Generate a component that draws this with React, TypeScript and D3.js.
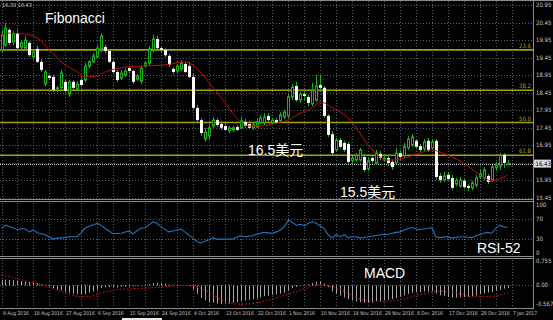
import React from 'react';
import * as d3 from 'd3';

const W = 553;
const H = 320;

const dateLabels = [
  '9 Aug 2016', '18 Aug 2016', '27 Aug 2016', '6 Sep 2016', '15 Sep 2016', '24 Sep 2016',
  '4 Oct 2016', '13 Oct 2016', '22 Oct 2016', '1 Nov 2016', '10 Nov 2016', '19 Nov 2016',
  '29 Nov 2016', '8 Dec 2016', '17 Dec 2016', '28 Dec 2016', '7 Jan 2017',
];

// open, high, low, close
const ohlc: [number, number, number, number][] = [
  [19.67, 20.24, 19.58, 20.10], [19.81, 20.44, 19.75, 20.29], [20.24, 20.29, 19.81, 19.87], [19.90, 20.21, 19.81, 20.12],
  [20.15, 20.24, 19.67, 19.72], [19.75, 19.95, 19.67, 19.87], [19.72, 20.07, 19.64, 19.95], [19.87, 19.92, 19.47, 19.52],
  [19.47, 19.67, 19.38, 19.61], [19.70, 19.78, 19.30, 19.33], [19.33, 19.41, 19.04, 19.10], [18.70, 19.10, 18.64, 19.04],
  [18.93, 18.98, 18.81, 18.87], [18.90, 18.96, 18.47, 18.53], [18.56, 18.64, 18.47, 18.59], [18.59, 19.10, 18.56, 19.01],
  [18.76, 18.81, 18.44, 18.50], [18.41, 18.81, 18.33, 18.76], [18.76, 18.81, 18.53, 18.59], [18.56, 18.78, 18.50, 18.70],
  [18.81, 18.87, 18.61, 18.67], [18.81, 19.30, 18.76, 19.21], [19.21, 19.38, 19.15, 19.33], [19.33, 19.58, 19.30, 19.50],
  [19.47, 19.81, 19.44, 19.72], [19.70, 20.15, 19.61, 20.07], [19.75, 19.81, 19.58, 19.64], [19.64, 19.70, 19.30, 19.33],
  [19.33, 19.38, 18.98, 19.04], [19.04, 19.10, 18.76, 18.81], [18.87, 19.10, 18.81, 19.01], [18.96, 19.15, 18.90, 19.07],
  [19.15, 19.21, 19.01, 19.07], [19.07, 19.10, 18.70, 18.76], [18.84, 18.98, 18.78, 18.93], [18.78, 19.21, 18.70, 19.15],
  [19.21, 19.36, 19.18, 19.30], [19.30, 19.78, 19.24, 19.70], [19.67, 20.10, 19.61, 19.98], [19.98, 20.07, 19.67, 19.72],
  [19.72, 19.78, 19.61, 19.67], [19.67, 19.72, 19.47, 19.52], [19.50, 19.55, 19.18, 19.24], [19.13, 19.18, 18.98, 19.04],
  [19.07, 19.27, 19.01, 19.21], [19.13, 19.38, 19.07, 19.30], [19.27, 19.33, 19.01, 19.04], [19.21, 19.33, 18.87, 18.90],
  [18.90, 18.98, 17.96, 18.02], [18.02, 18.10, 17.62, 17.67], [17.67, 17.73, 17.22, 17.30], [17.13, 17.45, 17.05, 17.33],
  [17.22, 17.53, 17.13, 17.45], [17.50, 17.76, 17.45, 17.67], [17.67, 17.73, 17.47, 17.53], [17.56, 17.65, 17.39, 17.45],
  [17.50, 17.59, 17.36, 17.39], [17.36, 17.50, 17.30, 17.45], [17.39, 17.50, 17.33, 17.45], [17.47, 17.53, 17.36, 17.39],
  [17.45, 17.76, 17.42, 17.65], [17.62, 17.70, 17.45, 17.50], [17.56, 17.65, 17.42, 17.45], [17.45, 17.59, 17.39, 17.53],
  [17.47, 17.70, 17.45, 17.62], [17.59, 17.82, 17.56, 17.73], [17.59, 17.87, 17.53, 17.76], [17.79, 17.87, 17.62, 17.67],
  [17.59, 17.73, 17.53, 17.67], [17.67, 17.73, 17.56, 17.59], [17.65, 17.90, 17.59, 17.82], [17.76, 17.96, 17.70, 17.90],
  [17.79, 18.41, 17.73, 18.33], [18.33, 18.70, 18.24, 18.61], [18.64, 18.76, 18.19, 18.24], [18.24, 18.47, 18.16, 18.41],
  [18.41, 18.47, 18.24, 18.36], [18.33, 18.39, 18.07, 18.16], [18.13, 18.73, 18.07, 18.53], [18.24, 18.96, 18.19, 18.64],
  [18.67, 18.96, 18.47, 18.59], [18.59, 18.64, 17.73, 17.79], [17.79, 17.84, 17.19, 17.25], [17.27, 17.36, 16.68, 16.73],
  [16.82, 17.16, 16.76, 17.10], [17.10, 17.16, 16.85, 16.91], [17.02, 17.08, 16.76, 16.82], [16.99, 17.05, 16.42, 16.48],
  [16.51, 16.65, 16.45, 16.59], [16.53, 16.73, 16.48, 16.68], [16.53, 16.88, 16.48, 16.82], [16.62, 16.71, 16.19, 16.25],
  [16.28, 16.59, 16.22, 16.51], [16.59, 16.65, 16.45, 16.51], [16.45, 16.82, 16.39, 16.73], [16.71, 16.79, 16.53, 16.59],
  [16.53, 16.65, 16.48, 16.59], [16.59, 16.68, 16.36, 16.45], [16.48, 16.53, 16.25, 16.33], [16.45, 16.88, 16.39, 16.73],
  [16.73, 16.82, 16.53, 16.62], [16.65, 17.02, 16.59, 16.91], [16.88, 17.22, 16.82, 17.13], [16.96, 17.27, 16.91, 17.19],
  [17.08, 17.13, 16.85, 16.91], [16.93, 16.99, 16.76, 16.82], [16.85, 17.13, 16.79, 17.05], [17.08, 17.16, 16.76, 16.82],
  [16.88, 17.13, 16.82, 17.05], [17.08, 17.13, 15.96, 16.05], [16.08, 16.16, 15.88, 15.96], [15.96, 16.19, 15.91, 16.08],
  [16.11, 16.19, 15.94, 15.99], [16.02, 16.11, 15.68, 15.74], [15.85, 16.02, 15.79, 15.96], [15.79, 16.05, 15.74, 15.96],
  [15.94, 15.99, 15.71, 15.76], [15.79, 15.85, 15.65, 15.74], [15.74, 15.94, 15.68, 15.88], [15.82, 16.11, 15.76, 16.02],
  [16.05, 16.25, 15.99, 16.14], [16.02, 16.33, 15.96, 16.25], [16.08, 16.14, 15.85, 15.91], [15.96, 16.39, 15.91, 16.33],
  [16.31, 16.48, 16.22, 16.39], [16.36, 16.73, 16.25, 16.68], [16.68, 16.73, 16.31, 16.45], [16.41, 16.53, 16.38, 16.43],
];

// [bar index, value] read from the red moving average
const maPoints: [number, number][] = [
  [0, 20.10], [2, 20.15], [6, 20.12], [9, 20.01], [12, 19.67], [15, 19.33], [19, 19.04], [21, 18.90],
  [24, 18.93], [26, 19.04], [31, 19.18], [35, 19.21], [41, 19.24], [46, 19.33], [48, 19.24], [51, 18.90],
  [53, 18.61], [55, 18.33], [58, 17.87], [60, 17.62], [62, 17.50], [65, 17.50], [69, 17.59], [72, 17.67],
  [75, 17.87], [78, 18.02], [80, 18.19], [81, 18.16], [83, 18.02], [87, 17.73], [89, 17.45], [92, 16.96],
  [95, 16.62], [97, 16.53], [100, 16.56], [105, 16.73], [108, 16.82], [110, 16.76], [113, 16.62], [116, 16.45],
  [120, 16.11], [123, 15.94], [127, 16.11],
];

const rsiPoints: [number, number][] = [
  [0, 51], [1, 58], [2, 55], [3, 52], [4, 48], [5, 51], [6, 50], [7, 44], [8, 48], [9, 42], [11, 38], [13, 29],
  [14, 31], [16, 32], [17, 34], [19, 34], [20, 42], [21, 52], [24, 62], [25, 58], [26, 51], [28, 40], [30, 41],
  [32, 46], [33, 40], [35, 52], [36, 52], [38, 65], [39, 62], [40, 55], [42, 44], [43, 46], [45, 50], [46, 44],
  [48, 31], [49, 24], [50, 21], [52, 27], [53, 32], [54, 29], [56, 29], [58, 29], [60, 36], [61, 34], [63, 36],
  [64, 39], [66, 43], [68, 41], [69, 44], [70, 48], [71, 55], [72, 69], [74, 58], [75, 60], [76, 57], [77, 62],
  [78, 65], [79, 62], [81, 51], [82, 38], [83, 31], [84, 38], [85, 34], [86, 38], [87, 32], [88, 34], [89, 34],
  [90, 31], [92, 34], [93, 35], [95, 38], [97, 39], [99, 43], [100, 44], [102, 51], [103, 53], [104, 50],
  [105, 49], [107, 51], [108, 53], [109, 34], [110, 32], [112, 34], [113, 31], [115, 34], [116, 34], [118, 32],
  [119, 36], [121, 41], [122, 43], [123, 41], [124, 51], [125, 58], [126, 55], [127, 53],
];

const macdHist: number[] = [
  0.17, 0.18, 0.17, 0.16, 0.15, 0.13, 0.12, 0.10, 0.08, 0.06, 0.03, -0.01, -0.04, -0.08, -0.12, -0.15,
  -0.19, -0.22, -0.25, -0.27, -0.28, -0.26, -0.22, -0.18, -0.13, -0.08, -0.06, -0.05, -0.05, -0.06, -0.05, -0.04,
  -0.03, -0.03, -0.02, -0.01, 0.01, 0.04, 0.07, 0.08, 0.07, 0.05, 0.03, 0.01, 0.01, 0.01, 0.00, -0.02,
  -0.12, -0.25, -0.38, -0.45, -0.50, -0.53, -0.55, -0.56, -0.56, -0.55, -0.53, -0.51, -0.48, -0.46, -0.44, -0.42,
  -0.39, -0.36, -0.33, -0.31, -0.29, -0.27, -0.25, -0.22, -0.15, -0.08, -0.05, -0.02, 0.01, 0.03, 0.07, 0.11,
  0.12, 0.06, -0.05, -0.18, -0.25, -0.31, -0.36, -0.42, -0.46, -0.49, -0.51, -0.53, -0.53, -0.52, -0.50, -0.48,
  -0.46, -0.44, -0.42, -0.38, -0.34, -0.30, -0.26, -0.22, -0.21, -0.20, -0.19, -0.19, -0.18, -0.25, -0.30, -0.33,
  -0.35, -0.37, -0.37, -0.36, -0.36, -0.35, -0.33, -0.30, -0.27, -0.24, -0.22, -0.20, -0.17, -0.13, -0.10, -0.08,
];

const signalPoints: [number, number][] = [
  [0, 0.33], [5, 0.17], [10, 0.02], [15, -0.18], [20, -0.34], [22, -0.34], [25, -0.23], [29, -0.13],
  [33, -0.10], [37, -0.08], [42, -0.03], [46, 0.00], [50, -0.08], [53, -0.28], [56, -0.49], [59, -0.57],
  [61, -0.57], [65, -0.51], [69, -0.38], [73, -0.23], [77, -0.06], [79, 0.02], [82, 0.00], [85, -0.13],
  [90, -0.41], [95, -0.49], [100, -0.44], [105, -0.28], [110, -0.18], [113, -0.19], [118, -0.34], [122, -0.34],
  [127, -0.23],
];

const priceTicks = [20.95, 20.45, 19.95, 19.45, 18.95, 18.45, 17.95, 17.45, 16.95, 16.45, 15.95, 15.45];
const fibLevels = [
  { label: '23.6', price: 19.67 },
  { label: '38.2', price: 18.52 },
  { label: '50.0', price: 17.60 },
  { label: '61.8', price: 16.67 },
];
const rsiTicks = [100, 70, 30, 0];
const rsiLevels = [70, 30];
const macdTicks = [0.755, 0.0, -0.567];
const macdTickLabels = ['0.755', '0.00', '-0.567'];
const currentPrice = 16.43;
const headerText = '16.38 16.43';

const GRID = '#56606b';
const AXIS = '#8c8c8c';
const TXT = '#c8c8c8';
const CAND = '#19b219';
const FIB = '#a3a300';
const FONT = '"Liberation Sans", Arial, "Noto Sans CJK SC", sans-serif';
const SMALL = '"Liberation Sans Narrow", "DejaVu Sans Condensed", "Liberation Sans", sans-serif';

export default function App() {
  const x = d3.scaleLinear().domain([0, 128]).range([1.5, 511.5]);
  const yP = d3.scaleLinear().domain([15.45, 20.95]).range([198, 5]);
  const yR = d3.scaleLinear().domain([0, 100]).range([253, 205]);
  const yM = d3.scaleLinear().domain([-0.567, 0.755]).range([304, 260.7]);
  const AX = 533.5;

  const maLine = d3.line<[number, number]>().x(d => x(d[0])).y(d => yP(d[1])).curve(d3.curveMonotoneX);
  const rsiLine = d3.line<[number, number]>().x(d => x(d[0])).y(d => yR(d[1]));
  const sigLine = d3.line<[number, number]>().x(d => x(d[0])).y(d => yM(d[1])).curve(d3.curveMonotoneX);

  const gridIdx = d3.range(0, 129, 4);
  const labelIdx = d3.range(0, 129, 8);

  return (
    <svg width={W} height={H} style={{ position: 'absolute', left: 0, top: 0, background: '#000' }} fontFamily={FONT}>
      <rect x={0} y={0} width={W} height={H} fill="#000" />
      <defs>
        <clipPath id="mainClip"><rect x={0} y={1} width={AX} height={197.5} /></clipPath>
        <clipPath id="rsiClip"><rect x={0} y={202} width={AX} height={54} /></clipPath>
        <clipPath id="macdClip"><rect x={0} y={259} width={AX} height={49} /></clipPath>
      </defs>

      {/* vertical grid */}
      {gridIdx.map(i => (
        <g key={'vg' + i}>
          <line x1={Math.round(x(i)) + 0.5} x2={Math.round(x(i)) + 0.5} y1={1} y2={198} stroke={GRID} strokeDasharray="1 2" />
          <line x1={Math.round(x(i)) + 0.5} x2={Math.round(x(i)) + 0.5} y1={203} y2={255} stroke={GRID} strokeDasharray="1 2" />
          <line x1={Math.round(x(i)) + 0.5} x2={Math.round(x(i)) + 0.5} y1={260} y2={307} stroke={GRID} strokeDasharray="1 2" />
        </g>
      ))}
      {/* horizontal grid main */}
      {priceTicks.map(p => (
        <line key={'hg' + p} x1={0} x2={AX} y1={Math.round(yP(p)) + 0.5} y2={Math.round(yP(p)) + 0.5} stroke={GRID} strokeDasharray="1 2" />
      ))}
      {rsiLevels.map(v => (
        <line key={'rl' + v} x1={0} x2={AX} y1={Math.round(yR(v)) + 0.5} y2={Math.round(yR(v)) + 0.5} stroke={GRID} strokeDasharray="1 2" />
      ))}
      <line x1={0} x2={AX} y1={Math.round(yM(0)) + 0.5} y2={Math.round(yM(0)) + 0.5} stroke={GRID} strokeDasharray="1 2" />

      {/* fibonacci */}
      {fibLevels.map(f => (
        <g key={'fib' + f.label}>
          <line x1={0} x2={AX} y1={yP(f.price)} y2={yP(f.price)} stroke={FIB} strokeWidth={1.6} />
          <text x={531} y={yP(f.price) - 2} fontSize={6} fill={FIB} textAnchor="end" fontFamily={SMALL}>{f.label}</text>
        </g>
      ))}

      {/* current price line */}
      <line x1={0} x2={AX} y1={Math.round(yP(currentPrice)) + 0.5} y2={Math.round(yP(currentPrice)) + 0.5} stroke="#c8c8c8" strokeDasharray="1 1" />

      {/* candles */}
      <g clipPath="url(#mainClip)">
        {ohlc.map((d, i) => {
          const [o, h, l, c] = d;
          const cx = Math.round(x(i)) + 0.5;
          const top = yP(Math.max(o, c));
          const bot = yP(Math.min(o, c));
          const bull = c >= o;
          return (
            <g key={'c' + i}>
              <line x1={cx} x2={cx} y1={yP(h)} y2={yP(l)} stroke={CAND} strokeWidth={1} />
              {bull ? (
                <rect x={cx - 1} y={top} width={2} height={Math.max(bot - top, 0.8)} fill="#000" stroke={CAND} strokeWidth={1} />
              ) : (
                <rect x={cx - 1.5} y={top} width={3} height={Math.max(bot - top, 1)} fill="#ffffff" />
              )}
            </g>
          );
        })}
        <path d={maLine(maPoints) || ''} fill="none" stroke="#c01010" strokeWidth={1} />
      </g>

      {/* RSI */}
      <g clipPath="url(#rsiClip)">
        <path d={rsiLine(rsiPoints) || ''} fill="none" stroke="#1f74bd" strokeWidth={1.1} />
      </g>

      {/* MACD */}
      <g clipPath="url(#macdClip)">
        {macdHist.map((v, i) => (
          <line key={'h' + i} x1={Math.round(x(i)) + 0.5} x2={Math.round(x(i)) + 0.5} y1={yM(0)} y2={yM(v)} stroke="#a8a8a8" strokeWidth={1} />
        ))}
        <path d={sigLine(signalPoints) || ''} fill="none" stroke="#d01414" strokeWidth={1.1} strokeDasharray="1.5 2" />
      </g>

      {/* panel borders */}
      <line x1={0} x2={W} y1={0.5} y2={0.5} stroke={AXIS} />
      <line x1={0} x2={AX} y1={199.5} y2={199.5} stroke={AXIS} />
      <line x1={0} x2={AX} y1={201.5} y2={201.5} stroke={AXIS} />
      <line x1={0} x2={AX} y1={256.5} y2={256.5} stroke={AXIS} />
      <line x1={0} x2={AX} y1={258.5} y2={258.5} stroke={AXIS} />
      <line x1={0} x2={AX} y1={308.5} y2={308.5} stroke={AXIS} />
      <line x1={AX} x2={AX} y1={0} y2={309} stroke={AXIS} />

      {/* right axis labels */}
      <g fontFamily={SMALL}>
        {priceTicks.map(p => (
          <text key={'pt' + p} x={536} y={yP(p) + 2} fontSize={6} fill={TXT}>{p.toFixed(2)}</text>
        ))}
        <rect x={534} y={yP(currentPrice) - 4} width={17} height={8} fill="#d8d8d8" />
        <text x={535.5} y={yP(currentPrice) + 2} fontSize={6} fill="#000">{currentPrice.toFixed(2)}</text>
        {rsiTicks.map(v => (
          <text key={'rt' + v} x={536} y={yR(v) + 2} fontSize={6} fill={TXT}>{v}</text>
        ))}
        {macdTicks.map((v, k) => (
          <text key={'mt' + v} x={536} y={yM(v) + 2} fontSize={6} fill={TXT}>{macdTickLabels[k]}</text>
        ))}

        {/* date labels */}
        {labelIdx.map((i, k) => (
          <text key={'dl' + i} x={Math.round(x(i)) + 1} y={314.5} fontSize={5} fill={TXT}>{dateLabels[k]}</text>
        ))}
        <text x={2} y={7} fontSize={5.5} fill={TXT}>{headerText}</text>
      </g>
      <rect x={122} y={318} width={40} height={2} fill="#e8e8e8" />

      {/* annotations */}
      <text x={45} y={23} fontSize={14} fill="#ffffff">Fibonacci</text>
      <text x={248} y={155} fontSize={14} fill="#ffffff">16.5美元</text>
      <text x={340} y={197} fontSize={14} fill="#ffffff">15.5美元</text>
      <text x={477} y={253} fontSize={14} fill="#ffffff">RSI-52</text>
      <text x={364} y={278} fontSize={14} fill="#ffffff">MACD</text>
    </svg>
  );
}
